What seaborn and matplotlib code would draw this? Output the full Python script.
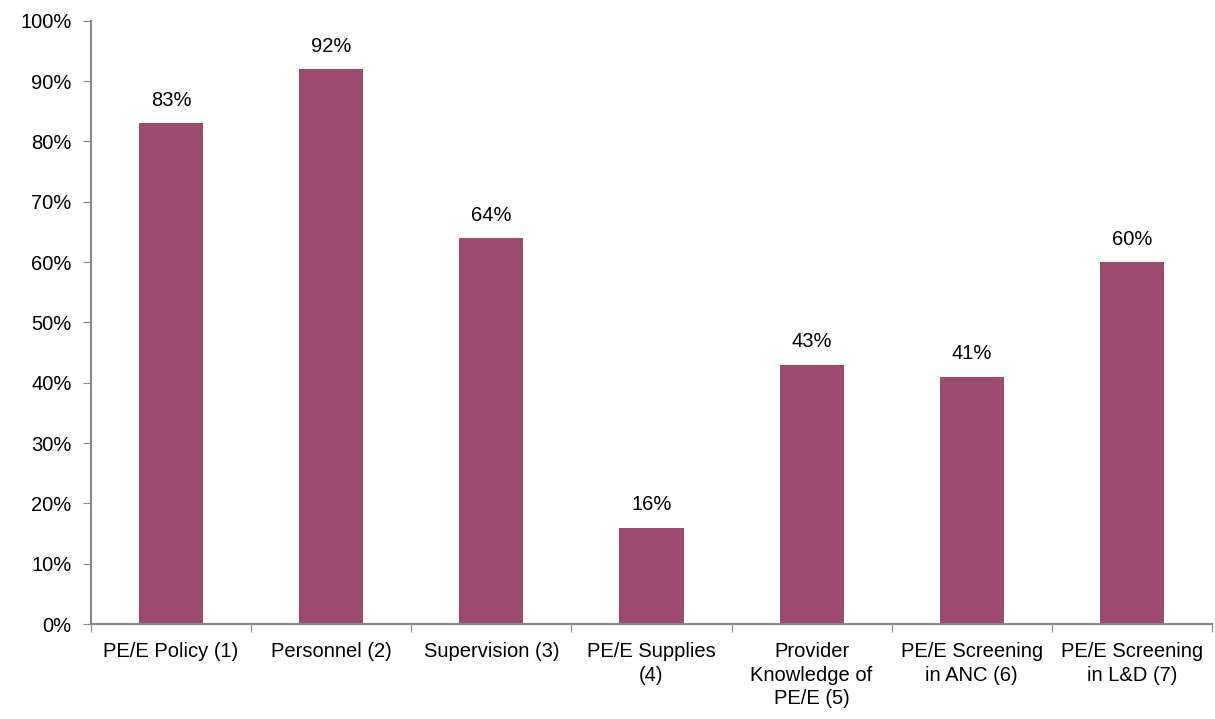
import numpy as np
import pandas as pd
import matplotlib.pyplot as plt
import seaborn as sns
from matplotlib.ticker import FixedLocator, PercentFormatter

categories = ["PE/E Policy (1)", "Personnel (2)", "Supervision (3)", "PE/E Supplies\n(4)",
              "Provider\nKnowledge of\nPE/E (5)", "PE/E Screening\nin ANC (6)", "PE/E Screening\nin L&D (7)"]
values = [83, 92, 64, 16, 43, 41, 60]

df = pd.DataFrame({"cat": categories, "val": values})

sns.set_style("white")
plt.rcParams['font.family'] = ['Liberation Sans', 'DejaVu Sans']
plt.rcParams['text.color'] = 'black'
plt.rcParams['xtick.color'] = 'black'
plt.rcParams['ytick.color'] = 'black'

fig = plt.figure(figsize=(12.15, 7.19), dpi=100)
ax = fig.add_axes([0.0749, 0.1321, 0.9226, 0.8389])

sns.barplot(data=df, x="cat", y="val", color="#9C4A6E", width=0.4, saturation=1,
            linewidth=0, ax=ax)

for i, v in enumerate(values):
    ax.text(i, v + 2.2, f"{v}%", ha="center", va="bottom", fontsize=14.5, color="black")

ax.set_xlim(-0.5, len(categories) - 0.5)
ax.set_ylim(0, 100)
ax.set_yticks(np.arange(0, 101, 10))
ax.yaxis.set_major_formatter(PercentFormatter(decimals=0))

# category boundaries as ticks, labels centred
ax.xaxis.set_major_locator(FixedLocator(np.arange(-0.5, len(categories), 1)))
ax.xaxis.set_minor_locator(FixedLocator(np.arange(len(categories))))
ax.set_xticklabels([], minor=False)
ax.set_xticklabels(categories, minor=True, linespacing=1.3)
ax.tick_params(axis="x", which="minor", length=0, pad=13, labelsize=14.5, labelcolor="black")
ax.tick_params(axis="x", which="major", length=6, direction="out", color="#888888", bottom=True)
ax.tick_params(axis="y", length=6, direction="out", color="#888888", left=True,
               labelsize=14.5, labelcolor="black", pad=8)

ax.set_xlabel("")
ax.set_ylabel("")
sns.despine(ax=ax)
for s in ["left", "bottom"]:
    ax.spines[s].set_color("#888888")
    ax.spines[s].set_linewidth(1.5)

fig.savefig("out.png", dpi=100)
